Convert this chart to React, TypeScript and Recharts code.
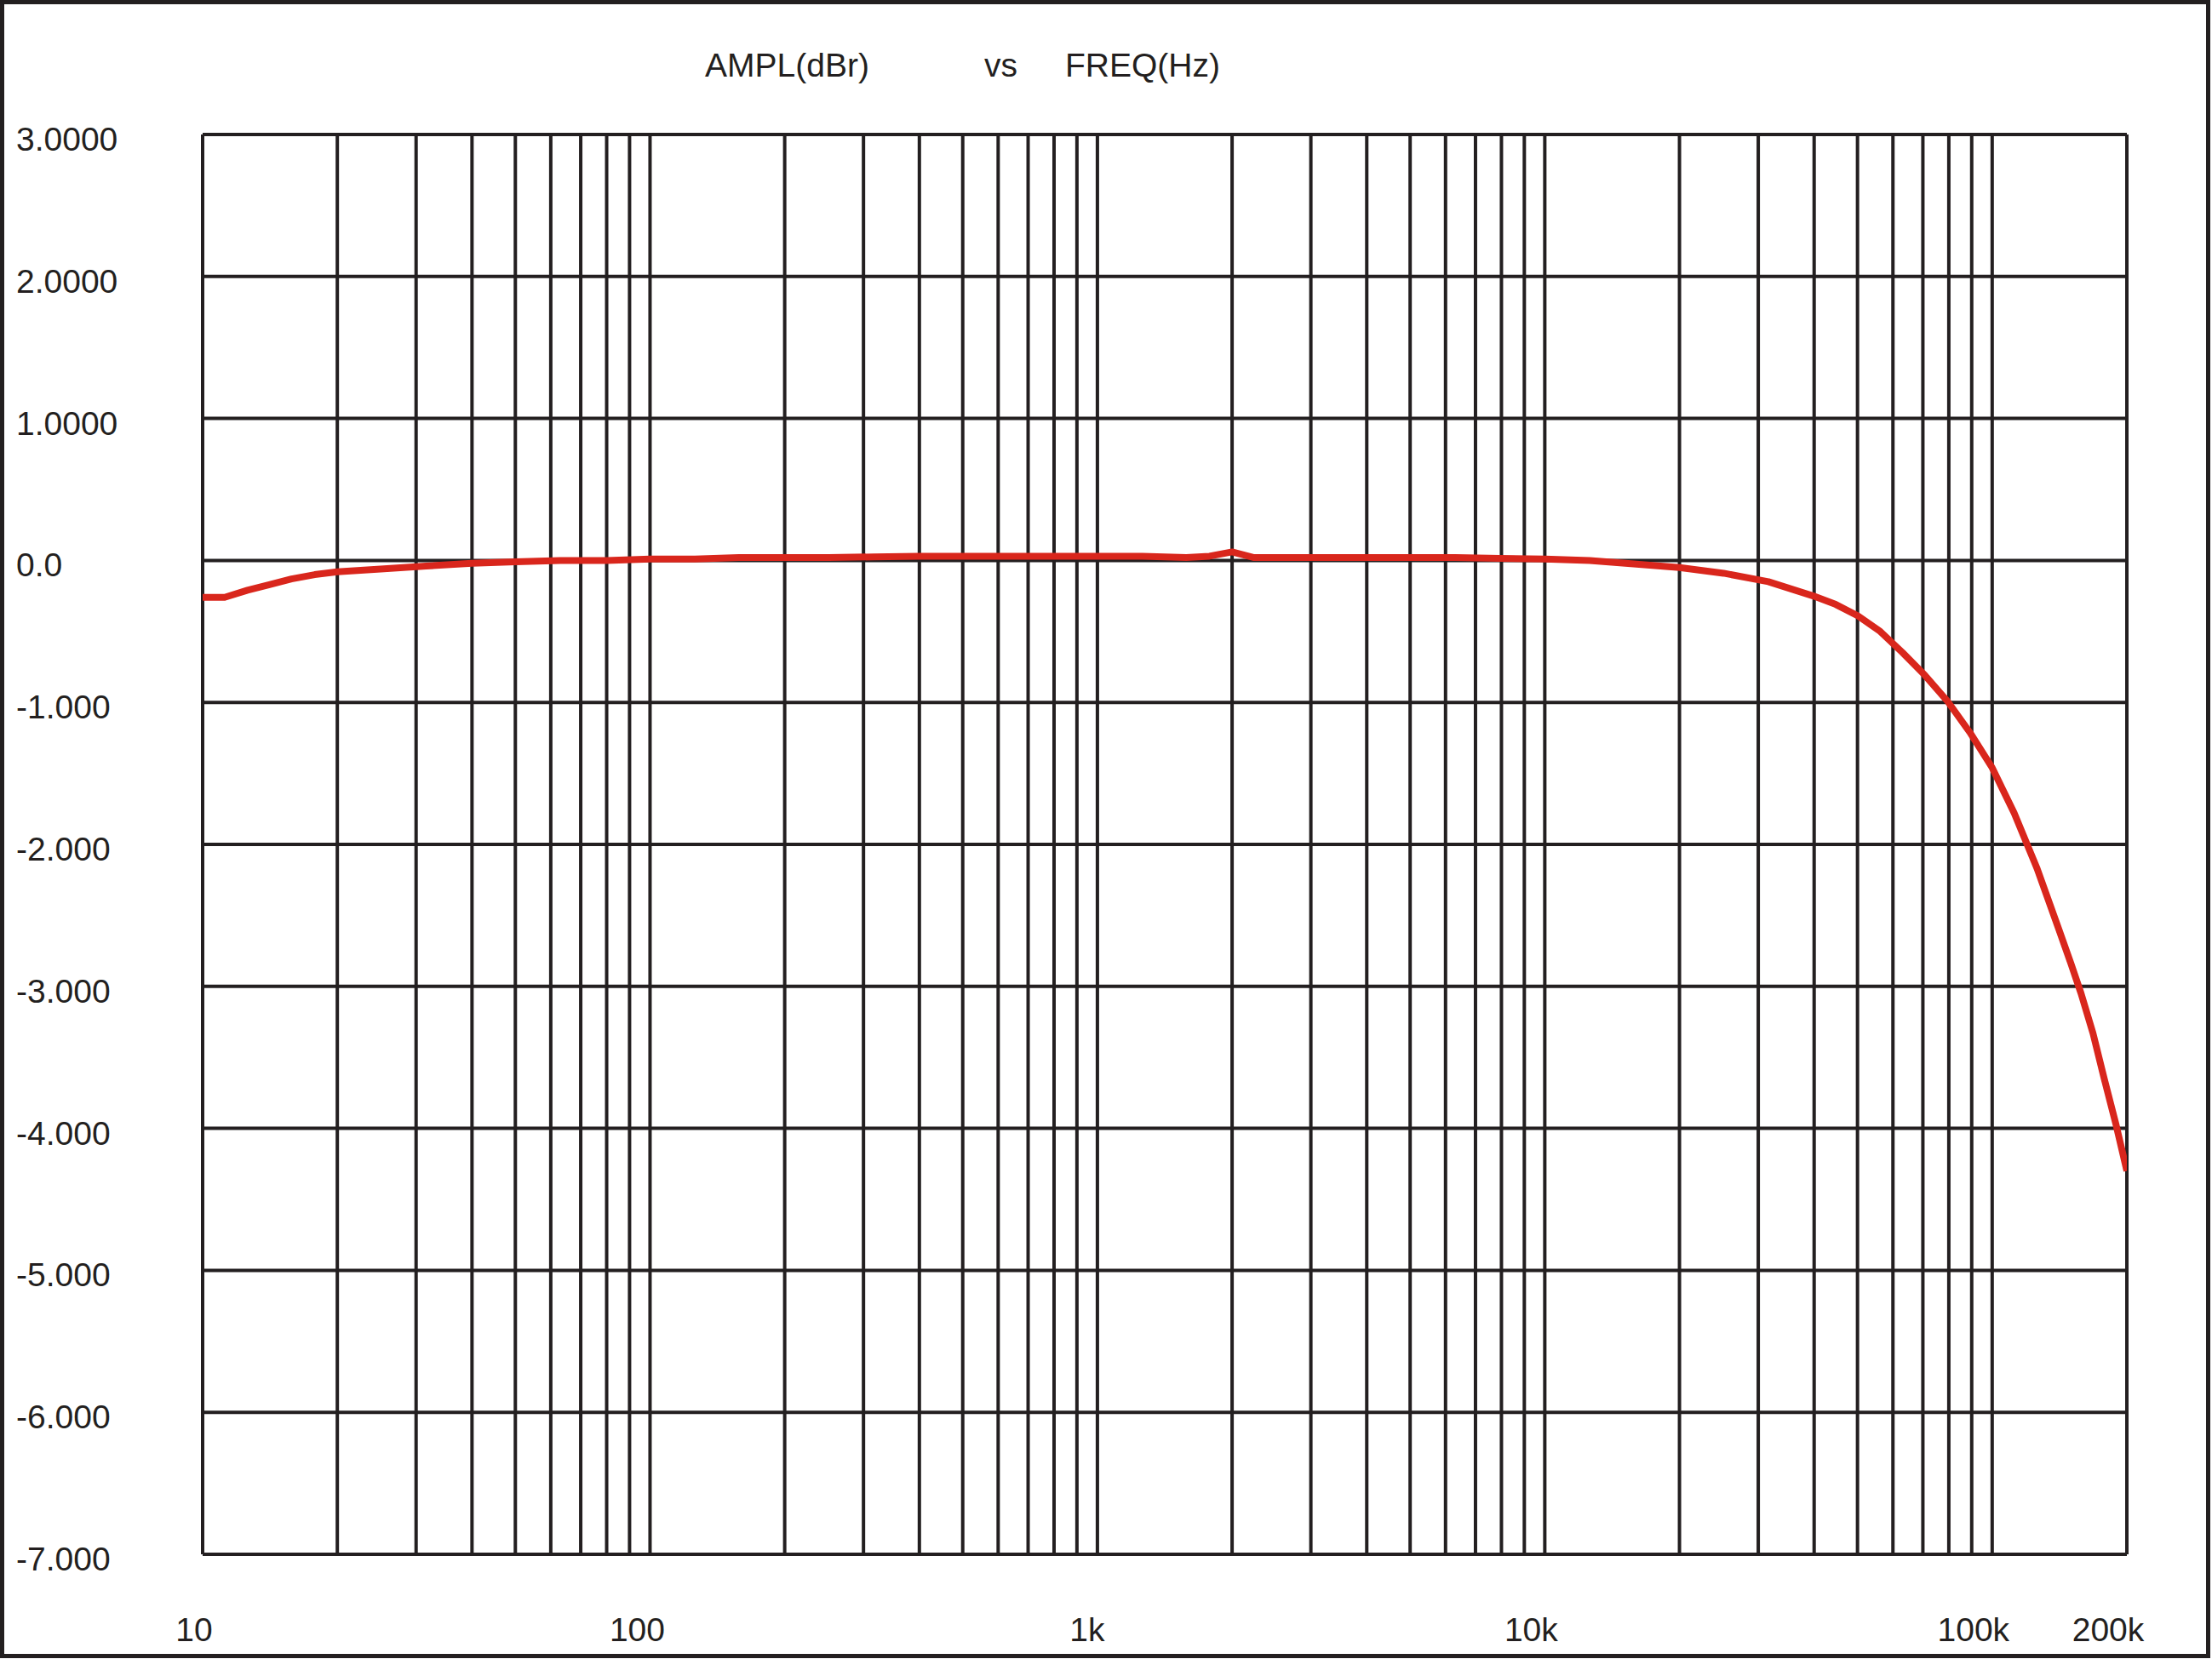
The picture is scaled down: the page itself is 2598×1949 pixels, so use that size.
import { CartesianGrid, Line, LineChart, XAxis, YAxis } from 'recharts'

const FREQ_HZ = [
  10, 11.2, 12.6, 14.1, 15.8, 17.8, 20, 25, 31.6, 40, 50, 63, 80, 100, 126, 158, 200, 251, 316,
  398, 501, 631, 794, 1000, 1260, 1580, 1780, 2000, 2240, 2510, 3160, 3980, 5010, 6310, 7940,
  10000, 12600, 15800, 20000, 25100, 31600, 39800, 44700, 50100, 56200, 63100, 70800, 79400,
  89100, 100000, 112000, 126000, 141000, 150000, 158000, 168000, 178000, 189000, 200000,
]
const AMPL_DBR = [
  -0.26, -0.26, -0.21, -0.17, -0.13, -0.1, -0.08, -0.06, -0.04, -0.02, -0.01, 0.0, 0.0, 0.01,
  0.01, 0.02, 0.02, 0.02, 0.025, 0.03, 0.03, 0.03, 0.03, 0.03, 0.03, 0.02, 0.03, 0.06, 0.02,
  0.02, 0.02, 0.02, 0.02, 0.02, 0.015, 0.01, 0.0, -0.025, -0.05, -0.09, -0.15, -0.25, -0.31,
  -0.39, -0.5, -0.65, -0.81, -0.99, -1.21, -1.46, -1.78, -2.17, -2.6, -2.84, -3.05, -3.33,
  -3.65, -3.97, -4.3,
]

const X_GRID = [
  10, 20, 30, 40, 50, 60, 70, 80, 90, 100, 200, 300, 400, 500, 600, 700, 800, 900, 1000, 2000,
  3000, 4000, 5000, 6000, 7000, 8000, 9000, 10000, 20000, 30000, 40000, 50000, 60000, 70000,
  80000, 90000, 100000, 200000,
]
const X_LABEL_VALUES = [10, 100, 1000, 10000, 100000, 200000]
const X_LABEL_TEXT = ['10', '100', '1k', '10k', '100k', '200k']

const Y_TICKS = [3, 2, 1, 0, -1, -2, -3, -4, -5, -6, -7]
const Y_TICK_TEXT = [
  '3.0000', '2.0000', '1.0000', '0.0', '-1.000', '-2.000', '-3.000', '-4.000', '-5.000', '-6.000',
  '-7.000',
]

const rows = FREQ_HZ.map((f, i) => ({ f, a: AMPL_DBR[i] }))

const INK = '#231f20'
const FONT = '"Liberation Sans", Arial, sans-serif'

// labels sit a little left of their grid lines in the original
const labelShift: Record<string, number> = {
  '10': -10,
  '100': -15,
  '1k': -12,
  '10k': -16,
  '100k': -22,
  '200k': -22,
}

type TickProps = {
  x?: number
  y?: number
  payload?: { value?: number }
}

function XTick(p: TickProps) {
  const v = p.payload?.value ?? 0
  const i = X_LABEL_VALUES.indexOf(v)
  if (i < 0) return <g />
  const t = X_LABEL_TEXT[i]
  return (
    <text
      x={(p.x ?? 0) + (labelShift[t] ?? 0)}
      y={1928}
      textAnchor="middle"
      fill={INK}
      fontSize={39}
      fontFamily={FONT}
    >
      {t}
    </text>
  )
}

function YTick(p: TickProps) {
  const v = p.payload?.value ?? 0
  const i = Y_TICKS.indexOf(v)
  if (i < 0) return <g />
  return (
    <text x={19} y={(p.y ?? 0) + 19} textAnchor="start" fill={INK} fontSize={39} fontFamily={FONT}>
      {Y_TICK_TEXT[i]}
    </text>
  )
}

export default function App() {
  return (
    <div
      style={{
        position: 'absolute',
        left: 0,
        top: 0,
        width: 2598,
        height: 1949,
        background: '#fff',
        overflow: 'hidden',
      }}
    >
      <div style={{ position: 'absolute', left: 0, top: 0 }}>
        <LineChart
          width={2598}
          height={1949}
          data={rows}
          margin={{ top: 158, right: 100, bottom: 0, left: 0 }}
        >
          <CartesianGrid stroke={INK} strokeWidth={4} />
          <XAxis
            dataKey="f"
            type="number"
            scale="log"
            domain={[10, 200000]}
            ticks={X_GRID}
            interval={0}
            allowDataOverflow
            axisLine={false}
            tickLine={false}
            height={123}
            tick={<XTick />}
          />
          <YAxis
            type="number"
            domain={[-7, 3]}
            ticks={Y_TICKS}
            interval={0}
            allowDataOverflow
            axisLine={false}
            tickLine={false}
            width={238}
            tick={<YTick />}
          />
          <Line
            type="linear"
            dataKey="a"
            stroke="#d9261c"
            strokeWidth={8}
            strokeLinejoin="round"
            dot={false}
            activeDot={false}
            isAnimationActive={false}
          />
        </LineChart>
      </div>
      <svg
        width={2598}
        height={1949}
        style={{ position: 'absolute', left: 0, top: 0, pointerEvents: 'none' }}
      >
        <text x={828} y={90} fill={INK} fontSize={39} fontFamily={FONT}>
          AMPL(dBr)
        </text>
        <text x={1156} y={90} fill={INK} fontSize={39} fontFamily={FONT}>
          vs
        </text>
        <text x={1251} y={90} fill={INK} fontSize={39} fontFamily={FONT}>
          FREQ(Hz)
        </text>
      </svg>
      <div
        style={{
          position: 'absolute',
          left: 0,
          top: 0,
          width: 2596,
          height: 1948,
          border: `5px solid ${INK}`,
          boxSizing: 'border-box',
        }}
      />
    </div>
  )
}
